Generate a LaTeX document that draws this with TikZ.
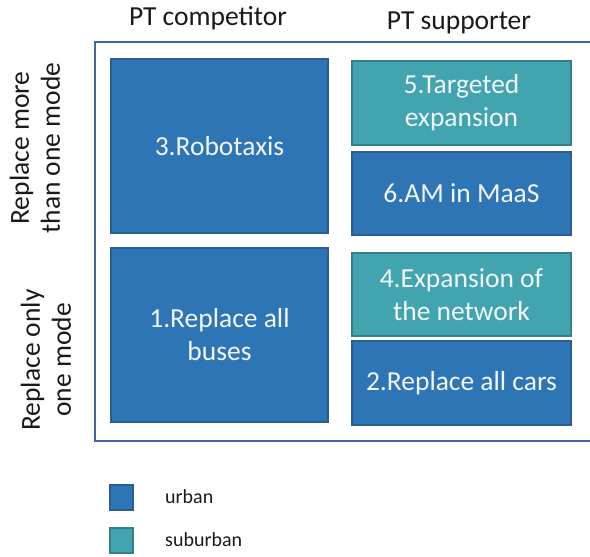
\documentclass[tikz,border=0pt]{standalone}
\usepackage{fontspec}
\setmainfont{Carlito}
\definecolor{urbanfill}{HTML}{2E75B6}
\definecolor{urbanline}{HTML}{2A5E95}
\definecolor{suburbfill}{HTML}{41A4AF}
\definecolor{suburbline}{HTML}{31808A}
\definecolor{framecol}{HTML}{3F66A0}
\definecolor{boxtext}{HTML}{F2F6FA}
\definecolor{labeltext}{HTML}{1A1A1A}
\tikzset{
  cellbox/.style={draw, line width=1.4pt, inner sep=0pt, outer sep=0pt,
    text=boxtext, align=center, font=\fontsize{27.5}{33}\selectfont},
  urbanbox/.style={cellbox, fill=urbanfill, draw=urbanline},
  suburbbox/.style={cellbox, fill=suburbfill, draw=suburbline},
  headlabel/.style={text=labeltext, inner sep=0pt, align=center, font=\fontsize{27.5}{31}\selectfont},
  keybox/.style={draw, line width=1.2pt, inner sep=0pt, minimum width=23pt, minimum height=25pt},
  keytext/.style={text=labeltext, anchor=west, inner sep=0pt, font=\fontsize{20}{24}\selectfont},
  frameline/.style={draw=framecol, line width=2pt}
}
\begin{document}
\begin{tikzpicture}[x=1pt,y=-1pt]
\useasboundingbox (0,0) rectangle (590,557);
\fill[white] (0,0) rectangle (590,557);
% frame
\coordinate (ftr) at (594,42);
\coordinate (ftl) at (95,42);
\coordinate (fbl) at (95,441);
\coordinate (fbr) at (594,441);
\draw[frameline] (ftr) -- (ftl) -- (fbl) -- (fbr);
% headers
\node[headlabel] (hcomp) at (208,18) {PT competitor};
\node[headlabel] (hsupp) at (459,23) {PT supporter};
% side labels
\node[headlabel, rotate=90] (lmore) at (35,148) {Replace more\\than one mode};
\node[headlabel, rotate=90] (lone) at (46,360) {Replace only\\one mode};
% boxes
\node[urbanbox, minimum width=217pt, minimum height=174pt] (b3) at (219.5,146) {3.Robotaxis};
\node[urbanbox, minimum width=217pt, minimum height=174pt] (b1) at (219.5,335) {1.Replace all\\buses};
\node[suburbbox, minimum width=219pt, minimum height=84pt] (b5) at (461.5,103) {5.Targeted\\expansion};
\node[urbanbox, minimum width=219pt, minimum height=83pt] (b6) at (461.5,193.5) {6.AM in MaaS};
\node[suburbbox, minimum width=219pt, minimum height=83pt] (b4) at (461.5,294.5) {4.Expansion of\\the network};
\node[urbanbox, minimum width=219pt, minimum height=84pt] (b2) at (461.5,383) {2.Replace all cars};
% legend
\node[keybox, fill=urbanfill, draw=urbanline] (kurban) at (121.5,497.5) {};
\node[keybox, fill=suburbfill, draw=suburbline] (ksub) at (121.5,540.5) {};
\node[keytext] (turban) at (165,497) {urban};
\node[keytext] (tsub) at (165,540) {suburban};
\end{tikzpicture}
\end{document}
